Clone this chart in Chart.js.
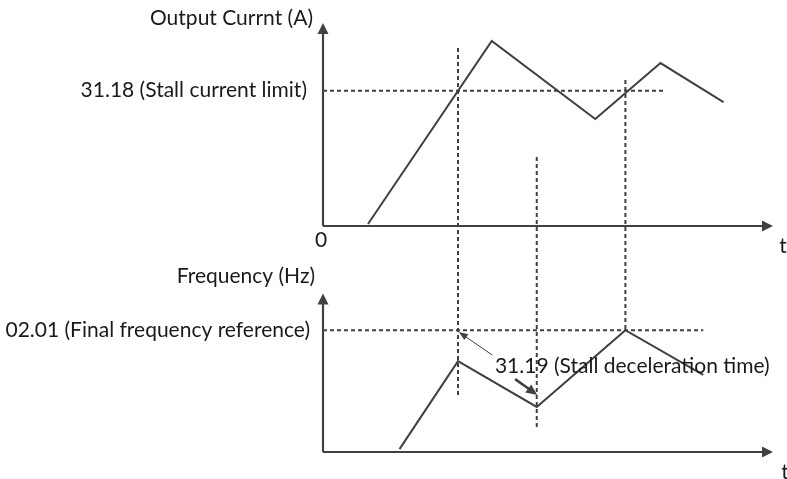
<!DOCTYPE html>
<html>
<head>
<meta charset="utf-8">
<script src="https://cdn.jsdelivr.net/npm/chart.js@4.4.1/dist/chart.umd.min.js"></script>
<style>
  html, body { margin: 0; padding: 0; background: #fff; }
</style>
</head>
<body>
<canvas id="stall" width="787" height="479"></canvas>
<script>
// time runs 0..10 (arbitrary units) on both panels
const timeEnd = 10;

// output current trace (A, arbitrary scale, stall limit = 100)
const currentTime = [1.0, 3.75, 6.05, 7.5, 8.9];
const currentAmps = [1.5, 136.7, 79, 120.4, 91.6];
const stallCurrentLimit = 100;
const limitLineEnd = 7.6;
const currentAxisTop = 150;

// frequency trace (Hz, final reference = 50)
const freqTime = [1.7, 3.0, 4.75, 6.72, 8.45];
const freqHz = [1.2, 37.3, 18.5, 50, 31.6];
const finalFreqRef = 50;
const refLineEnd = 8.45;
const freqAxisTop = 65;

// vertical guides crossing both panels, ends given on the Hz scale
const guideTime = [3.0, 4.75, 6.72];
const guideTop = [165.7, 121.0, 152.6];
const guideBottom = [22.6, 9.0, 50];

// stall deceleration annotation (time, Hz)
const decelThin = [[3.76, 39.8], [3.02, 49.2]];
const decelBold = [[4.27, 29.9], [4.76, 23.4]];
const decelLabelAt = [3.82, 35.3];

const INK = '#404040';
const TEXT = '#1a1a1a';
const FONT = '21px Lato';

const pts = (xs, ys) => xs.map((x, i) => ({ x: x, y: ys[i] }));

const solid = (data, axis) => ({
  data: data, yAxisID: axis,
  borderColor: INK, borderWidth: 2, borderJoinStyle: 'miter',
  pointRadius: 0, tension: 0, fill: false
});
const dashed = (data, axis) => ({
  data: data, yAxisID: axis,
  borderColor: INK, borderWidth: 2, borderDash: [4, 3],
  pointRadius: 0, tension: 0, fill: false
});

const datasets = [
  dashed([{ x: 0, y: stallCurrentLimit }, { x: limitLineEnd, y: stallCurrentLimit }], 'yI'),
  dashed([{ x: 0, y: finalFreqRef }, { x: refLineEnd, y: finalFreqRef }], 'yF'),
];
guideTime.forEach((t, i) => {
  datasets.push(dashed([{ x: t, y: guideTop[i] }, { x: t, y: guideBottom[i] }], 'yF'));
});
datasets.push(solid(pts(currentTime, currentAmps), 'yI'));
datasets.push(solid(pts(freqTime, freqHz), 'yF'));

function arrow(ctx, x0, y0, x1, y1, width, head, half) {
  const a = Math.atan2(y1 - y0, x1 - x0);
  ctx.lineWidth = width;
  ctx.beginPath();
  ctx.moveTo(x0, y0);
  ctx.lineTo(x1 - Math.cos(a) * head * 0.8, y1 - Math.sin(a) * head * 0.8);
  ctx.stroke();
  ctx.beginPath();
  ctx.moveTo(x1, y1);
  ctx.lineTo(x1 - Math.cos(a) * head + Math.sin(a) * half, y1 - Math.sin(a) * head - Math.cos(a) * half);
  ctx.lineTo(x1 - Math.cos(a) * head - Math.sin(a) * half, y1 - Math.sin(a) * head + Math.cos(a) * half);
  ctx.closePath();
  ctx.fill();
}

// axes with arrow heads, plus all the labels
const diagram = {
  id: 'diagram',
  beforeDatasetsDraw(chart) {
    const { ctx, scales: { x, yI, yF } } = chart;
    ctx.save();
    ctx.strokeStyle = INK;
    ctx.fillStyle = INK;
    const x0 = x.getPixelForValue(0), xEnd = x.getPixelForValue(timeEnd);
    // current panel
    arrow(ctx, x0, yI.getPixelForValue(0), x0, yI.getPixelForValue(currentAxisTop), 2.2, 11, 5.5);
    arrow(ctx, x0, yI.getPixelForValue(0), xEnd, yI.getPixelForValue(0), 2.2, 11, 5.5);
    // frequency panel
    arrow(ctx, x0, yF.getPixelForValue(0), x0, yF.getPixelForValue(freqAxisTop), 2.2, 11, 5.5);
    arrow(ctx, x0, yF.getPixelForValue(0), xEnd, yF.getPixelForValue(0), 2.2, 11, 5.5);
    ctx.restore();
  },
  afterDatasetsDraw(chart) {
    const { ctx, scales: { x, yI, yF } } = chart;
    const x0 = x.getPixelForValue(0), xEnd = x.getPixelForValue(timeEnd);
    ctx.save();
    ctx.strokeStyle = INK;
    ctx.fillStyle = INK;
    const px = p => [x.getPixelForValue(p[0]), yF.getPixelForValue(p[1])];
    const [a0, a1] = [px(decelThin[0]), px(decelThin[1])];
    arrow(ctx, a0[0], a0[1], a1[0], a1[1], 1, 9, 3.5);
    const [b0, b1] = [px(decelBold[0]), px(decelBold[1])];
    arrow(ctx, b0[0], b0[1], b1[0], b1[1], 2.5, 11, 5);

    ctx.fillStyle = TEXT;
    ctx.font = FONT;
    ctx.textBaseline = 'middle';
    ctx.textAlign = 'right';
    ctx.fillText('Output Currnt (A)', x0 - 10, yI.getPixelForValue(currentAxisTop) - 5);
    ctx.fillText('31.18 (Stall current limit)', x0 - 16, yI.getPixelForValue(stallCurrentLimit));
    ctx.fillText('Frequency (Hz)', x0 - 8, yF.getPixelForValue(freqAxisTop) - 17);
    ctx.fillText('02.01 (Final frequency reference)', x0 - 13, yF.getPixelForValue(finalFreqRef));
    ctx.textAlign = 'center';
    ctx.fillText('0', x0 - 2, yI.getPixelForValue(0) + 14);
    ctx.fillText('t', xEnd + 10, yI.getPixelForValue(0) + 20);
    ctx.fillText('t', xEnd + 12, yF.getPixelForValue(0) + 20);
    ctx.textAlign = 'left';
    const lp = px(decelLabelAt);
    ctx.fillText('31.19 (Stall deceleration time)', lp[0], lp[1]);
    ctx.restore();
  }
};

new Chart(document.getElementById('stall'), {
  type: 'line',
  data: { datasets: datasets },
  options: {
    responsive: false,
    animation: false,
    devicePixelRatio: 1,
    layout: { padding: { left: 323, right: 14, top: 23, bottom: 27 } },
    plugins: { legend: { display: false }, tooltip: { enabled: false } },
    scales: {
      x: { type: 'linear', min: 0, max: timeEnd, display: false },
      yI: { type: 'linear', min: -167, max: 150, display: false },
      yF: { type: 'linear', min: 0, max: 176, display: false }
    }
  },
  plugins: [diagram]
});
</script>
</body>
</html>
